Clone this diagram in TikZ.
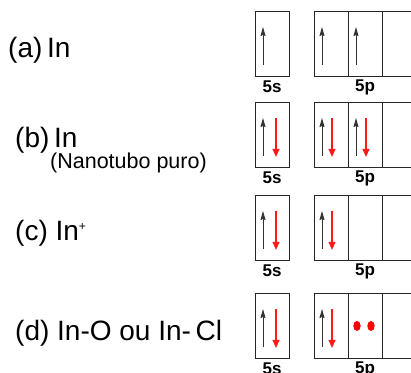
\documentclass[tikz,border=0pt]{standalone}
\usepackage{fontspec}
\setmainfont{Liberation Sans}
\usetikzlibrary{arrows.meta}

\begin{document}
\begin{tikzpicture}[x=1pt, y=-1pt,
  orb/.style={draw=black!85, line width=0.9pt, minimum width=34pt, minimum height=65pt, inner sep=0pt, anchor=north west},
  orblabel/.style={font=\bfseries\fontsize{17}{17}\selectfont, inner sep=0pt},
  rowlabel/.style={anchor=base west, inner sep=0pt, font=\fontsize{28}{28}\selectfont},
  spinup/.style={-{Stealth[length=9pt, width=5pt, inset=1pt]}, line width=0.9pt, black!80},
  spindown/.style={-{Triangle[length=8pt, width=7pt]}, line width=1.1pt, red!90!white}]

\useasboundingbox (0,0) rectangle (411,372);
\clip (0,0) rectangle (411,372);

% Boxes 5s and 5p for each row
\foreach \r/\y in {a/11, b/102, c/195, d/293} {
  \node[orb] (s\r) at (255,\y) {};
  \node[orb] (p\r1) at (314,\y) {};
  \node[orb] (p\r2) at (348,\y) {};
  \node[orb] (p\r3) at (382,\y) {};
  \node[orblabel] (ls\r) at (272,\y+76) {5s};
  \node[orblabel] (lp\r) at (365,\y+76) {5p};
}

% Labels
\node[rowlabel] (ta) at (8,57) {(a)\,In};
\node[rowlabel] (tb) at (15,147) {(b)\,In};
\node[rowlabel, font=\fontsize{21.5}{21.5}\selectfont] (tbb) at (50,168) {(Nanotubo puro)};
\node[rowlabel] (tc) at (15,240) {(c) In\textsuperscript{\fontsize{12}{12}\selectfont+}};
\node[rowlabel] (td) at (15,340) {(d) In-O ou In-\,Cl};

% (a) In
\draw[spinup] ([shift={(8,-12)}]sa.south west) -- ([shift={(8,16)}]sa.north west);
\draw[spinup] ([shift={(8,-12)}]pa1.south west) -- ([shift={(8,16)}]pa1.north west);
\draw[spinup] ([shift={(8,-12)}]pa2.south west) -- ([shift={(8,16)}]pa2.north west);

% (b) In nanotubo
\draw[spinup] ([shift={(8,-12)}]sb.south west) -- ([shift={(8,16)}]sb.north west);
\draw[spindown] ([shift={(21,16)}]sb.north west) -- ([shift={(21,-11)}]sb.south west);
\draw[spinup] ([shift={(8,-12)}]pb1.south west) -- ([shift={(8,16)}]pb1.north west);
\draw[spindown] ([shift={(18,16)}]pb1.north west) -- ([shift={(18,-11)}]pb1.south west);
\draw[spinup] ([shift={(8,-12)}]pb2.south west) -- ([shift={(8,16)}]pb2.north west);
\draw[spindown] ([shift={(18,16)}]pb2.north west) -- ([shift={(18,-11)}]pb2.south west);

% (c) In+
\draw[spinup] ([shift={(8,-12)}]sc.south west) -- ([shift={(8,16)}]sc.north west);
\draw[spindown] ([shift={(21,16)}]sc.north west) -- ([shift={(21,-11)}]sc.south west);
\draw[spinup] ([shift={(8,-12)}]pc1.south west) -- ([shift={(8,16)}]pc1.north west);
\draw[spindown] ([shift={(18,16)}]pc1.north west) -- ([shift={(18,-11)}]pc1.south west);

% (d) In-O ou In-Cl
\draw[spinup] ([shift={(8,-12)}]sd.south west) -- ([shift={(8,16)}]sd.north west);
\draw[spindown] ([shift={(21,16)}]sd.north west) -- ([shift={(21,-11)}]sd.south west);
\draw[spinup] ([shift={(8,-12)}]pd1.south west) -- ([shift={(8,16)}]pd1.north west);
\draw[spindown] ([shift={(18,16)}]pd1.north west) -- ([shift={(18,-11)}]pd1.south west);
\fill[red] ([shift={(9,0)}]pd2.west) ellipse (3.7 and 5);
\fill[red] ([shift={(23,0)}]pd2.west) ellipse (3.7 and 5);

\end{tikzpicture}
\end{document}
